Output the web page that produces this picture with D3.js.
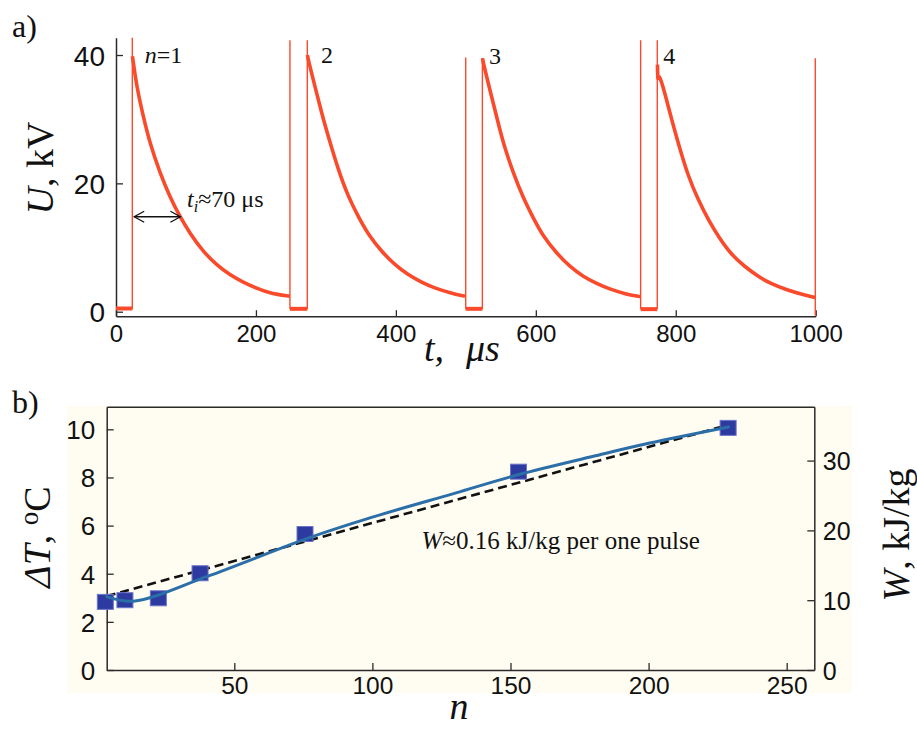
<!DOCTYPE html>
<html><head><meta charset="utf-8">
<script src="https://cdn.jsdelivr.net/npm/d3@7"></script>
<style>body{margin:0;background:#fff}svg{display:block}</style>
</head><body>
<script>
// ---------- panel a) : voltage pulses ----------
const baseStart = [0, 248.6, 499.8, 749.8];
const baseEnd   = [23.3, 273.4, 523.6, 773.6];
const baseU     = [0.5, 0.45, 0.45, 0.4];
const spikeT    = [23.3, 248.6, 273.4, 499.8, 523.6, 749.8, 773.6, 999.4];
const spikeLow  = [0.4, 0.4, 0.4, 0.4, 0.4, 0.4, 0.4, -0.6];
const spikeHigh = [42.7, 42.3, 42.3, 39.6, 39.5, 42.3, 42.3, 39.5];
const pulse1T = [23.5, 29.5, 39, 48.6, 62.9, 77, 91.4, 105.7, 124.7, 143.8, 162.9, 181.9, 201, 220, 248.6];
const pulse1U = [39.8, 35.1, 30.4, 26.2, 21.6, 17.9, 14.8, 12.2, 9.35, 7.3, 5.7, 4.6, 3.65, 2.87, 2.4];
const pulse2T = [273.6, 274.8, 284.4, 294, 303.4, 317.7, 332, 346.3, 360.6, 379.7, 398.7, 417.8, 436.8, 455.9, 479.8, 498.8];
const pulse2U = [40.0, 39.2, 35.1, 30.9, 27.3, 22.1, 17.9, 14.8, 12.0, 9.35, 7.3, 5.7, 4.6, 3.65, 2.87, 2.4];
const pulse3T = [523.8, 525, 534.5, 544, 553.5, 567.8, 582.1, 596.4, 610.7, 629.8, 648.8, 667.9, 687, 706, 729.9, 749.8];
const pulse3U = [39.5, 38.7, 34.5, 30.4, 26.2, 21.6, 17.7, 14.6, 11.7, 9.1, 7.0, 5.45, 4.4, 3.5, 2.7, 2.34];
const pulse4T = [773.8, 774.5, 775.5, 784.6, 794.2, 803.7, 818, 832.3, 846.6, 860.9, 880, 899, 918.1, 937.1, 956.2, 980, 999.4];
const pulse4U = [38.5, 35.6, 37.4, 34.0, 29.9, 26.2, 21.0, 17.4, 14.3, 11.7, 8.8, 7.0, 5.45, 4.3, 3.5, 2.7, 2.2];
const xTicksA = [0, 200, 400, 600, 800, 1000];
const xMinorA = [50, 100, 150, 250, 300, 350, 450, 500, 550, 650, 700, 750, 850, 900, 950];
const yTicksA = [0, 20, 40];
const pulseLabelT = [41, 293, 533, 782];
const pulseLabelU = [38.7, 38.7, 38.6, 38.6];
const arrowT = [26, 92];
const arrowU = 14.8;

// ---------- panel b) : heating vs number of pulses ----------
const pulsesN = [3.3, 10.4, 22.5, 37.6, 75.6, 152.9, 228.8];
const deltaT  = [2.83, 2.9, 2.98, 4.02, 5.65, 8.24, 10.06];
const fitN = [3.8, 13.5, 40, 76, 100, 130, 153, 180, 200, 229];
const fitT = [3.05, 2.86, 3.88, 5.45, 6.35, 7.35, 8.12, 8.88, 9.42, 10.1];
const dashN = [3.8, 228.5];
const dashT = [3.07, 10.17];
const xTicksB = [50, 100, 150, 200, 250];
const xMinorB = [10, 20, 30, 40, 60, 70, 80, 90, 110, 120, 130, 140, 160, 170, 180, 190, 210, 220, 230, 240];
const yTicksB = [0, 2, 4, 6, 8, 10];
const yMinorB = [1, 3, 5, 7, 9];
const wTicks = [0, 10, 20, 30];
const wMinor = [2, 4, 6, 8, 12, 14, 16, 18, 22, 24, 26, 28, 32, 34, 36];

const SERIF = "'Liberation Serif','Times New Roman',serif";
const SANS = "'Liberation Sans',Arial,sans-serif";
const RED = "#fa4a2c";
const AX = "#2a2a2a";

const svg = d3.select("body").append("svg").attr("width", 917).attr("height", 729);
svg.append("rect").attr("width", 917).attr("height", 729).attr("fill", "#fff");

// ===== panel a =====
const xA = d3.scaleLinear().domain([0, 1000]).range([116, 815.7]);
const yA = d3.scaleLinear().domain([-0.7, 42.7]).range([316.2, 37.7]);

function styleAxis(g, size, fam) {
  g.attr("font-family", fam).attr("font-size", size);
  g.selectAll("path.domain").attr("stroke", AX).attr("stroke-width", 1.5);
  g.selectAll(".tick line").attr("stroke", AX).attr("stroke-width", 1.3);
  g.selectAll(".tick text").attr("fill", "#111");
}

const gxA = svg.append("g").attr("transform", `translate(0,${yA(-0.7)})`);
gxA.call(d3.axisBottom(xA).tickValues(xMinorA).tickSize(-4).tickSizeOuter(0).tickFormat(""));
gxA.call(d3.axisBottom(xA).tickValues(xTicksA).tickSize(-6).tickSizeOuter(0).tickPadding(9).tickFormat(d3.format("d")));
styleAxis(gxA, 24, SANS);

const gyA = svg.append("g").attr("transform", `translate(${xA(0)},0)`);
gyA.call(d3.axisLeft(yA).tickValues(yTicksA).tickSize(-7).tickSizeOuter(0).tickPadding(11));
styleAxis(gyA, 28, SANS);
gyA.selectAll(".tick text").attr("dy", "0.36em");

const lineA = d3.line().x(d => xA(d[0])).y(d => yA(d[1])).curve(d3.curveBasis);
const pulses = [[pulse1T, pulse1U], [pulse2T, pulse2U], [pulse3T, pulse3U], [pulse4T, pulse4U]];
const gSig = svg.append("g");
baseStart.forEach((s, i) => {
  gSig.append("path").attr("d", d3.line().x(d => xA(d[0])).y(d => yA(d[1]))([[s, baseU[i]], [baseEnd[i], baseU[i]]]))
    .attr("fill", "none").attr("stroke", RED).attr("stroke-width", 4);
});
spikeT.forEach((t, i) => {
  gSig.append("path").attr("d", d3.line()([[xA(t), yA(spikeLow[i])], [xA(t), yA(spikeHigh[i])]]))
    .attr("stroke", RED).attr("stroke-width", 1.4);
});
pulses.forEach(([T, U]) => {
  gSig.append("path").attr("d", lineA(T.map((t, i) => [t, U[i]])))
    .attr("fill", "none").attr("stroke", RED).attr("stroke-width", 3.6).attr("stroke-linejoin", "round");
});

// pulse labels
pulseLabelT.forEach((t, i) => {
  const tx = svg.append("text").attr("x", xA(t)).attr("y", yA(pulseLabelU[i]))
    .attr("font-family", SERIF).attr("font-size", 24).attr("fill", "#111");
  if (i === 0) {
    tx.append("tspan").attr("font-style", "italic").text("n");
    tx.append("tspan").text("=1");
  } else tx.text(String(i + 1));
});

// arrow t_i
const ay = yA(arrowU), ax0 = xA(arrowT[0]), ax1 = xA(arrowT[1]);
svg.append("path").attr("d", d3.line()([[ax0, ay], [ax1, ay]])).attr("stroke", "#111").attr("stroke-width", 1.3);
svg.append("path").attr("d", d3.line()([[ax0 + 10, ay - 5.5], [ax0, ay], [ax0 + 10, ay + 5.5]]))
  .attr("fill", "none").attr("stroke", "#111").attr("stroke-width", 1.3);
svg.append("path").attr("d", d3.line()([[ax1 - 10, ay - 5.5], [ax1, ay], [ax1 - 10, ay + 5.5]]))
  .attr("fill", "none").attr("stroke", "#111").attr("stroke-width", 1.3);
const ti = svg.append("text").attr("x", 187).attr("y", 206.5).attr("font-family", SERIF)
  .attr("font-size", 24).attr("fill", "#111");
ti.append("tspan").attr("font-style", "italic").text("t");
ti.append("tspan").attr("font-style", "italic").attr("font-size", 16).attr("dy", 5).text("i");
ti.append("tspan").attr("dy", -5).text("≈70 μs");

// axis titles a
svg.append("text").attr("transform", "translate(53,168) rotate(-90)").attr("text-anchor", "middle")
  .attr("font-family", SERIF).attr("font-size", 38).attr("fill", "#111")
  .call(t => { t.append("tspan").attr("font-style", "italic").text("U"); t.append("tspan").text(", kV"); });
const xt = svg.append("text").attr("y", 361).attr("font-family", SERIF).attr("font-size", 38)
  .attr("font-style", "italic").attr("fill", "#111");
xt.append("tspan").attr("x", 424).text("t,");
xt.append("tspan").attr("x", 466).text("μs");
svg.append("text").attr("x", 12).attr("y", 37).attr("font-family", SERIF).attr("font-size", 32)
  .attr("fill", "#111").text("a)");

// ===== panel b =====
svg.append("rect").attr("x", 67).attr("y", 406).attr("width", 785).attr("height", 287).attr("fill", "#fffdf2");
const xB = d3.scaleLinear().domain([3.8, 260]).range([106.7, 814.3]);
const yB = d3.scaleLinear().domain([0, 10.94]).range([670, 406.7]);
const yW = d3.scaleLinear().domain([0, 37.72]).range([670, 406.7]);

const gxB = svg.append("g").attr("transform", `translate(0,${yB(0)})`);
gxB.call(d3.axisBottom(xB).tickValues(xMinorB).tickSize(-3.5).tickSizeOuter(0).tickFormat(""));
gxB.call(d3.axisBottom(xB).tickValues(xTicksB).tickSize(-7).tickSizeOuter(0).tickPadding(7));
styleAxis(gxB, 24.5, SANS);
const gtB = svg.append("g").attr("transform", `translate(0,${yB(10.94)})`);
gtB.call(d3.axisTop(xB).tickValues([]).tickSizeOuter(0));
styleAxis(gtB, 10, SANS);

const gyB = svg.append("g").attr("transform", `translate(${xB(3.8)},0)`);
gyB.call(d3.axisLeft(yB).tickValues(yMinorB).tickSize(-3.5).tickSizeOuter(0).tickFormat(""));
gyB.call(d3.axisLeft(yB).tickValues(yTicksB).tickSize(-7).tickSizeOuter(0).tickPadding(11.5));
styleAxis(gyB, 26, SANS);
gyB.selectAll(".tick text").attr("dy", "0.36em");

const gwB = svg.append("g").attr("transform", `translate(${xB(260)},0)`);
gwB.call(d3.axisRight(yW).tickValues(wMinor).tickSize(-3.5).tickSizeOuter(0).tickFormat(""));
gwB.call(d3.axisRight(yW).tickValues(wTicks).tickSize(-7).tickSizeOuter(0).tickPadding(8.5));
styleAxis(gwB, 25, SANS);
gwB.selectAll(".tick text").attr("dy", "0.36em");

// dashed linear fit
svg.append("path").attr("d", d3.line().x(d => xB(d[0])).y(d => yB(d[1]))(dashN.map((n, i) => [n, dashT[i]])))
  .attr("fill", "none").attr("stroke", "#111").attr("stroke-width", 2.6).attr("stroke-dasharray", "9,5");
// squares
svg.append("g").selectAll("rect").data(pulsesN.map((n, i) => [n, deltaT[i]])).join("rect")
  .attr("x", d => xB(d[0]) - 8).attr("y", d => yB(d[1]) - 7.5).attr("width", 16).attr("height", 15)
  .attr("fill", "#2d3a9f").attr("stroke", "#6b74c9").attr("stroke-width", 1);
// smooth fit
svg.append("path").attr("d", d3.line().x(d => xB(d[0])).y(d => yB(d[1])).curve(d3.curveCatmullRom.alpha(0.5))(fitN.map((n, i) => [n, fitT[i]])))
  .attr("fill", "none").attr("stroke", "#2b6ea8").attr("stroke-width", 3).attr("stroke-linecap", "round");

// annotation
const wa = svg.append("text").attr("x", 421.5).attr("y", 548.5).attr("font-family", SERIF)
  .attr("font-size", 25).attr("fill", "#111");
wa.append("tspan").attr("font-style", "italic").text("W");
wa.append("tspan").text("≈0.16 kJ/kg per one pulse");

// axis titles b
const ly = svg.append("text").attr("transform", "translate(50,537) rotate(-90)").attr("text-anchor", "middle")
  .attr("font-family", SERIF).attr("font-size", 38).attr("fill", "#111");
ly.append("tspan").attr("font-style", "italic").text("ΔT");
ly.append("tspan").text(", ");
ly.append("tspan").attr("font-size", 27).attr("dy", -12).text("o");
ly.append("tspan").attr("dy", 12).text("C");
const ry = svg.append("text").attr("transform", "translate(909,535) rotate(-90)").attr("text-anchor", "middle")
  .attr("font-family", SERIF).attr("font-size", 38).attr("fill", "#111");
ry.append("tspan").attr("font-style", "italic").text("W");
ry.append("tspan").text(", kJ/kg");
svg.append("text").attr("x", 459).attr("y", 719).attr("text-anchor", "middle").attr("font-family", SERIF)
  .attr("font-size", 38).attr("font-style", "italic").attr("fill", "#111").text("n");
svg.append("text").attr("x", 12).attr("y", 413).attr("font-family", SERIF).attr("font-size", 32)
  .attr("fill", "#111").text("b)");
</script>
</body></html>
